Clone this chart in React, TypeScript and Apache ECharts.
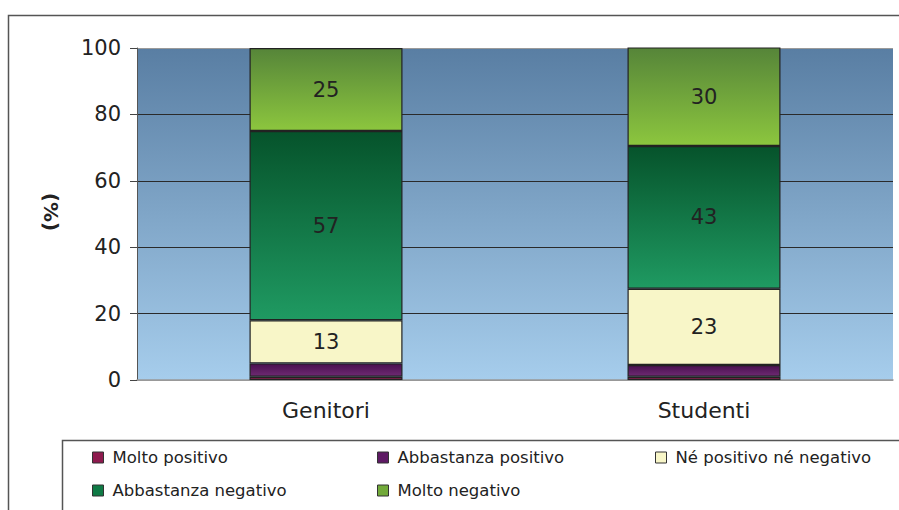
import React, { useEffect, useRef } from "react";
import * as echarts from "echarts";

const categories = ["Genitori", "Studenti"];
const seriesNames = [
  "Molto positivo",
  "Abbastanza positivo",
  "Né positivo né negativo",
  "Abbastanza negativo",
  "Molto negativo",
];
const moltoPositivo = [1, 1];
const abbastanzaPositivo = [4, 3.5];
const neutro = [13, 23];
const abbastanzaNegativo = [57, 43];
const moltoNegativo = [25, 30];
const yTicks = [0, 20, 40, 60, 80, 100];

const FONT = "DejaVu Sans, Verdana, sans-serif";

const grad = (top: string, bottom: string) =>
  new echarts.graphic.LinearGradient(0, 0, 0, 1, [
    { offset: 0, color: top },
    { offset: 1, color: bottom },
  ]);

export default function App() {
  const ref = useRef<HTMLDivElement>(null);
  useEffect(() => {
    if (!ref.current) return;
    const chart = echarts.init(ref.current, undefined, { renderer: "svg" });
    const values = [moltoPositivo, abbastanzaPositivo, neutro, abbastanzaNegativo, moltoNegativo];
    const fills = [
      grad("#6e1040", "#a02a5c"),
      grad("#4a1050", "#6e2a72"),
      "#f8f6c8",
      grad("#06532b", "#1f9a62"),
      grad("#568539", "#8cc63e"),
    ];
    const legendColors = ["#8e1a4e", "#5e1a64", "#f8f6c8", "#0f7a45", "#72aa3a"];
    const showLabel = [false, false, true, true, true];
    const legendPos = [
      { left: 92, top: 449 },
      { left: 377, top: 449 },
      { left: 655, top: 449 },
      { left: 92, top: 482 },
      { left: 377, top: 482 },
    ];
    chart.setOption({
      animation: false,
      textStyle: { fontFamily: FONT },
      graphic: [
        {
          type: "rect",
          shape: { x: 8.5, y: 15.5, width: 900, height: 500 },
          style: { fill: "none", stroke: "#555", lineWidth: 1.5 },
          z: -10,
        },
        {
          type: "rect",
          shape: { x: 62.5, y: 440.5, width: 850, height: 80 },
          style: { fill: "#fff", stroke: "#555", lineWidth: 1.5 },
          z: -10,
        },
        {
          type: "text",
          x: 51,
          y: 212,
          rotation: -Math.PI / 2,
          style: {
            text: "(%)",
            fontSize: 20,
            fontWeight: "bold",
            fill: "#222",
            fontFamily: FONT,
            align: "center",
            verticalAlign: "middle",
          },
        },
      ],
      grid: {
        left: 137,
        top: 48,
        width: 756,
        height: 332,
        show: true,
        borderWidth: 0,
        backgroundColor: grad("#597ea3", "#a6cdec"),
      },
      legend: seriesNames.map((n, i) => ({
        data: [{ name: n, itemStyle: { color: legendColors[i], borderColor: "#333", borderWidth: 1 } }],
        left: legendPos[i].left,
        top: legendPos[i].top,
        padding: 0,
        itemWidth: 11,
        itemHeight: 11,
        itemGap: 4,
        icon: "rect",
        selectedMode: false,
        textStyle: { fontSize: 16.5, color: "#222", fontFamily: FONT, padding: [0, 0, 0, 4] },
      })),
      xAxis: {
        type: "category",
        data: categories,
        axisLine: { show: true, lineStyle: { color: "#999", width: 1.5 } },
        axisTick: { show: false },
        axisLabel: { fontSize: 22, color: "#222", margin: 19, fontFamily: FONT },
      },
      yAxis: {
        type: "value",
        min: 0,
        max: 100,
        interval: 20,
        axisLine: { show: true, lineStyle: { color: "#555" } },
        axisTick: { show: true, length: 7, lineStyle: { color: "#444" } },
        axisLabel: {
          fontSize: 21,
          color: "#222",
          margin: 16,
          fontFamily: FONT,
          formatter: (v: number) => (yTicks.includes(v) ? String(v) : ""),
        },
        splitLine: {
          show: true,
          lineStyle: { color: ["#999", "#2a2a2a", "#2a2a2a", "#2a2a2a", "#2a2a2a", "#9a9a9a"], width: 1 },
        },
      },
      series: values.map((d, i) => ({
        name: seriesNames[i],
        type: "bar",
        stack: "total",
        data: d,
        barWidth: 153,
        itemStyle: { color: fills[i], borderColor: "#222", borderWidth: 1.2 },
        label: {
          show: showLabel[i],
          position: "inside",
          fontSize: 21,
          color: "#222",
          fontFamily: FONT,
        },
      })),
    });
    return () => chart.dispose();
  }, []);
  return (
    <div
      ref={ref}
      style={{ position: "fixed", left: 0, top: 0, width: 899, height: 510, background: "#fff" }}
    />
  );
}
